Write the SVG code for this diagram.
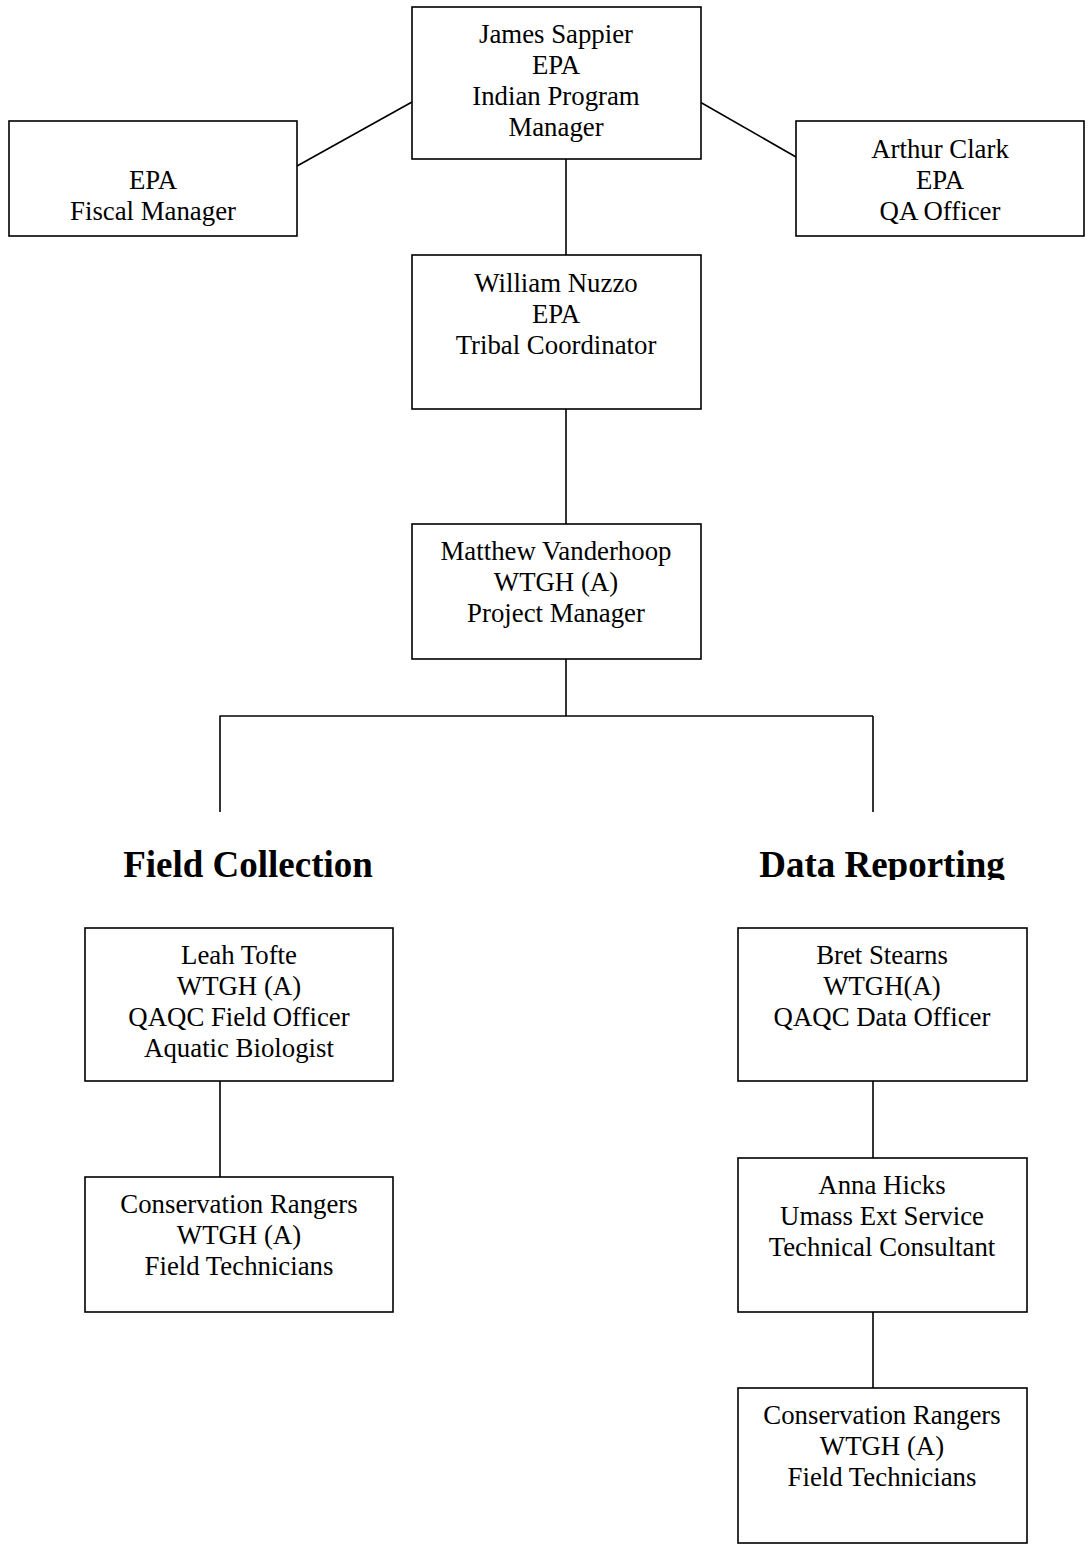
<svg xmlns="http://www.w3.org/2000/svg" width="1089" height="1547" viewBox="0 0 1089 1547">
<style>
.box{fill:#fff;stroke:#000;stroke-width:1.6}
.t{font-family:"Liberation Serif","Times New Roman",serif;font-size:26.8px;fill:#000;text-anchor:middle}
.h{font-family:"Liberation Serif","Times New Roman",serif;font-size:37px;font-weight:bold;fill:#000;text-anchor:middle}
.c{stroke:#000;stroke-width:1.6;fill:none}
</style>
<defs>
<clipPath id="clipDR"><rect x="700" y="820" width="380" height="60"/></clipPath>
</defs>
<rect width="1089" height="1547" fill="#fff"/>
<g id="connectors">
<line class="c" x1="297" y1="166" x2="412" y2="102"/>
<line class="c" x1="700" y1="102" x2="796" y2="157"/>
<line class="c" x1="566" y1="159" x2="566" y2="255"/>
<line class="c" x1="566" y1="409" x2="566" y2="524"/>
<line class="c" x1="566" y1="659" x2="566" y2="716"/>
<line class="c" x1="219.5" y1="716" x2="873" y2="716"/>
<line class="c" x1="220" y1="716" x2="220" y2="812"/>
<line class="c" x1="873" y1="716" x2="873" y2="812"/>
<line class="c" x1="220" y1="1081" x2="220" y2="1177"/>
<line class="c" x1="873" y1="1081" x2="873" y2="1158"/>
<line class="c" x1="873" y1="1312" x2="873" y2="1388"/>
</g>
<g id="james">
<rect class="box" x="412" y="7" width="289" height="152"/>
<text class="t" x="556" y="43">James Sappier</text>
<text class="t" x="556" y="74">EPA</text>
<text class="t" x="556" y="105">Indian Program</text>
<text class="t" x="556" y="136">Manager</text>
</g>
<g id="fiscal">
<rect class="box" x="9" y="121" width="288" height="115"/>
<text class="t" x="153" y="189">EPA</text>
<text class="t" x="153" y="220">Fiscal Manager</text>
</g>
<g id="arthur">
<rect class="box" x="796" y="121" width="288" height="115"/>
<text class="t" x="940" y="158">Arthur Clark</text>
<text class="t" x="940" y="189">EPA</text>
<text class="t" x="940" y="220">QA Officer</text>
</g>
<g id="william">
<rect class="box" x="412" y="255" width="289" height="154"/>
<text class="t" x="556" y="292">William Nuzzo</text>
<text class="t" x="556" y="323">EPA</text>
<text class="t" x="556" y="354">Tribal Coordinator</text>
</g>
<g id="matthew">
<rect class="box" x="412" y="524" width="289" height="135"/>
<text class="t" x="556" y="560">Matthew Vanderhoop</text>
<text class="t" x="556" y="591">WTGH (A)</text>
<text class="t" x="556" y="622">Project Manager</text>
</g>
<g id="heading-field">
<text class="h" x="248" y="877">Field Collection</text>
</g>
<g id="heading-data">
<text class="h" x="882" y="877" clip-path="url(#clipDR)">Data Reporting</text>
</g>
<g id="leah">
<rect class="box" x="85" y="928" width="308" height="153"/>
<text class="t" x="239" y="964">Leah Tofte</text>
<text class="t" x="239" y="995">WTGH (A)</text>
<text class="t" x="239" y="1026">QAQC Field Officer</text>
<text class="t" x="239" y="1057">Aquatic Biologist</text>
</g>
<g id="rangers-left">
<rect class="box" x="85" y="1177" width="308" height="135"/>
<text class="t" x="239" y="1213">Conservation Rangers</text>
<text class="t" x="239" y="1244">WTGH (A)</text>
<text class="t" x="239" y="1275">Field Technicians</text>
</g>
<g id="bret">
<rect class="box" x="738" y="928" width="289" height="153"/>
<text class="t" x="882" y="964">Bret Stearns</text>
<text class="t" x="882" y="995">WTGH(A)</text>
<text class="t" x="882" y="1026">QAQC Data Officer</text>
</g>
<g id="anna">
<rect class="box" x="738" y="1158" width="289" height="154"/>
<text class="t" x="882" y="1194">Anna Hicks</text>
<text class="t" x="882" y="1225">Umass Ext Service</text>
<text class="t" x="882" y="1256">Technical Consultant</text>
</g>
<g id="rangers-right">
<rect class="box" x="738" y="1388" width="289" height="155"/>
<text class="t" x="882" y="1424">Conservation Rangers</text>
<text class="t" x="882" y="1455">WTGH (A)</text>
<text class="t" x="882" y="1486">Field Technicians</text>
</g>
</svg>
